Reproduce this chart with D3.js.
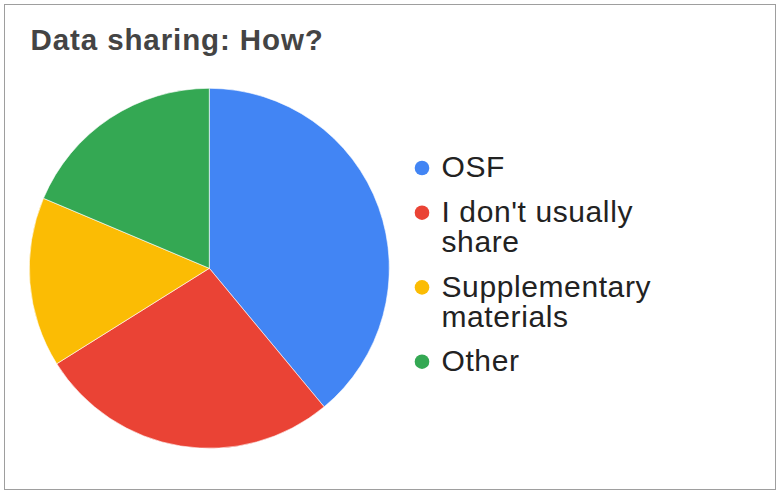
<!DOCTYPE html>
<html>
<head>
<meta charset="utf-8">
<script src="https://cdn.jsdelivr.net/npm/d3@7/dist/d3.min.js"></script>
<style>
  html, body { margin: 0; padding: 0; background: #fff; }
  svg { display: block; }
</style>
</head>
<body>
<svg id="chart" width="777" height="494"></svg>
<script>
const title = "Data sharing: How?";
const categories = ["OSF", "I don't usually share", "Supplementary materials", "Other"];
const legendLines = [["OSF"], ["I don't usually", "share"], ["Supplementary", "materials"], ["Other"]];
const values = [23, 16, 9, 11];
const colors = ["#4285F4", "#EA4335", "#FBBC04", "#34A853"];

const svg = d3.select("#chart");
const font = "Arial, 'Liberation Sans', sans-serif";

svg.append("rect")
  .attr("x", 4.5).attr("y", 4.5)
  .attr("width", 771).attr("height", 485)
  .attr("fill", "#fff")
  .attr("stroke", "#9e9e9e").attr("stroke-width", 1);

svg.append("text")
  .attr("x", 30.5).attr("y", 50)
  .attr("font-family", font)
  .attr("font-size", 29.5)
  .attr("font-weight", "bold")
  .attr("letter-spacing", 0.9)
  .attr("fill", "#444444")
  .text(title);

const cx = 209.3, cy = 268.3, r = 180;
const pie = d3.pie().sort(null).value(d => d)(values);
const arc = d3.arc().innerRadius(0).outerRadius(r);
const color = d3.scaleOrdinal().domain(categories).range(colors);

svg.append("g")
  .attr("transform", `translate(${cx},${cy})`)
  .selectAll("path")
  .data(pie)
  .join("path")
  .attr("d", arc)
  .attr("fill", (d, i) => color(categories[i]))
  .attr("stroke", "#ffffff")
  .attr("stroke-width", 0.6);

// legend
const legendX = 422, textX = 441.5;
const baselines = [177.3, 222, 296.7, 371];
const lineH = 30;
const lg = svg.append("g");
legendLines.forEach((lines, i) => {
  const by = baselines[i];
  lg.append("circle")
    .attr("cx", legendX).attr("cy", by - 9.3)
    .attr("r", 7.3)
    .attr("fill", color(categories[i]));
  const t = lg.append("text")
    .attr("font-family", font)
    .attr("font-size", 30)
    .attr("letter-spacing", 0.6)
    .attr("fill", "#222222");
  lines.forEach((ln, j) => {
    t.append("tspan").attr("x", textX).attr("y", by + j * lineH).text(ln);
  });
});
</script>
</body>
</html>
